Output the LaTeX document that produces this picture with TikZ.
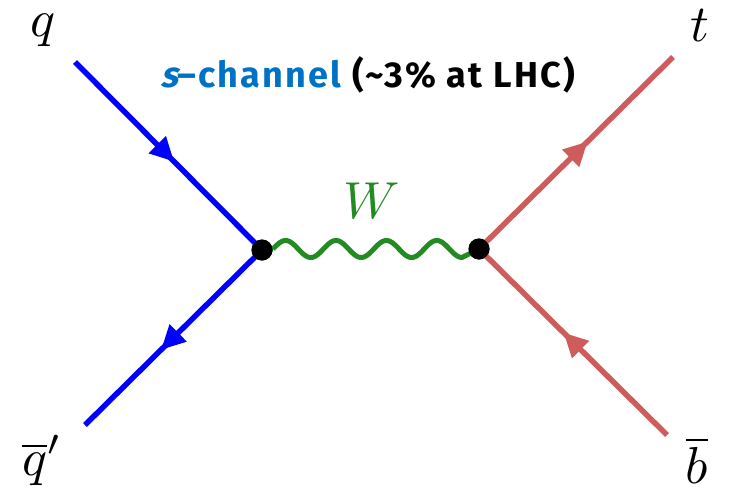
\documentclass[tikz,border=0pt]{standalone}
\usepackage{fontspec}
\setsansfont{Fira Sans}
\usetikzlibrary{decorations.markings,arrows.meta}
\definecolor{qblue}{RGB}{0,0,255}
\definecolor{tred}{RGB}{207,92,92}
\definecolor{wgreen}{RGB}{34,139,34}
\definecolor{tblue}{RGB}{0,114,198}
\begin{document}
\begin{tikzpicture}[x=1pt,y=-1pt,
  fermion/.style={line width=5.5pt, postaction={decorate},
    decoration={markings, mark=at position #1 with {\arrow{Triangle[length=24pt,width=23pt]}}}},
  boson/.style={wgreen, line width=5pt, line join=round},
  vtx/.style={circle, fill=black, inner sep=0pt, minimum size=21pt},
  lab/.style={anchor=base, inner sep=0pt, scale=5.2},
]
\useasboundingbox (0,0) rectangle (730,498);
\node[vtx] (v1) at (262,250) {};
\node[vtx] (v2) at (479,249) {};
\coordinate (qe) at (75,62);
\coordinate (qbe) at (85,425);
\coordinate (te) at (673,57);
\coordinate (be) at (667,435);
\draw[boson] (v1.center) -- (273,249)
  plot[domain=273:462, samples=150, smooth] (\x, {249 - 8.5*sin(7.142857*(\x-273))})
  -- (v2.center);
\draw[fermion=0.53, qblue] (qe) -- (v1.center);
\draw[fermion=0.57, qblue] (v1.center) -- (qbe);
\draw[fermion=0.56, tred] (v2.center) -- (te);
\draw[fermion=0.55, tred] (be) -- (v2.center);
\node[vtx] at (v1) {};
\node[vtx] at (v2) {};
\node[lab] (lq) at (43.5,36.5) {$q$};
\node[lab] (lqb) at (42,475.5) {$\overline{q}'$};
\node[lab] (lt) at (699.5,41) {$t$};
\node[lab] (lb) at (697,483) {$\overline{b}$};
\node[lab, wgreen] (lw) at (372,218) {$W$};
\node[anchor=base, font=\sffamily\bfseries\fontsize{36}{36}\selectfont] (title) at (367.5,87)
  {\addfontfeatures{LetterSpace=6}\textcolor{tblue}{{\addfontfeatures{FakeSlant=0.25}s}--channel} (\textasciitilde3\% at LHC)};
\end{tikzpicture}
\end{document}
